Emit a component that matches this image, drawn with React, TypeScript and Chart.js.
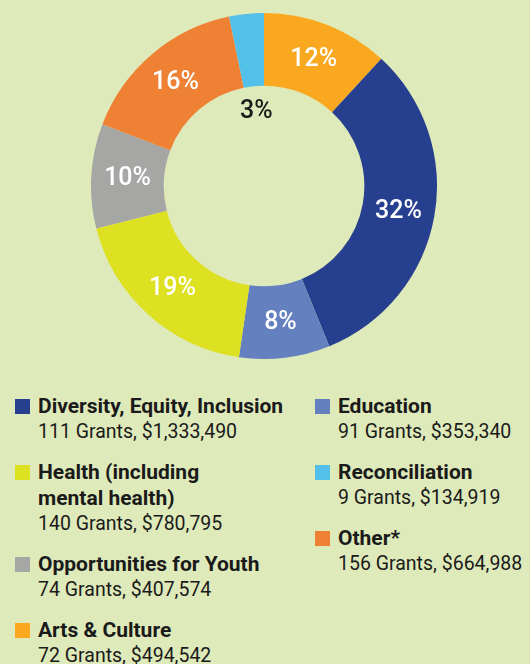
import React, { useEffect, useRef } from "react";
import { Chart, registerables } from "chart.js";

Chart.register(...registerables);

const categories = [
  "Arts & Culture",
  "Diversity, Equity, Inclusion",
  "Education",
  "Health (including mental health)",
  "Opportunities for Youth",
  "Other*",
  "Reconciliation",
];
const amounts = [494542, 1333490, 353340, 780795, 407574, 664988, 134919];
const grants = [72, 111, 91, 140, 74, 156, 9];
const colors = ["#f9a81f", "#273f8f", "#6480bf", "#dde122", "#a6a6a4", "#ee8134", "#53c0e9"];
const legendTitles = [
  "Arts & Culture",
  "Diversity, Equity, Inclusion",
  "Education",
  "Health (including\nmental health)",
  "Opportunities for Youth",
  "Other*",
  "Reconciliation",
];
const leftColumn = [1, 3, 4, 0];
const rightColumn = [2, 6, 5];
const insideHoleIndex = 6;

const fmt = (n: number) => "$" + n.toLocaleString("en-US");

const labelPlugin = {
  id: "pctLabels",
  afterDatasetsDraw(chart: any) {
    const ctx = chart.ctx;
    const meta = chart.getDatasetMeta(0);
    const data = chart.data.datasets[0].data as number[];
    const total = data.reduce((a, b) => a + b, 0);
    ctx.save();
    ctx.textAlign = "center";
    ctx.textBaseline = "middle";
    ctx.font = "500 25px Roboto";
    meta.data.forEach((arc: any, i: number) => {
      const p = arc.getProps(["x", "y", "startAngle", "endAngle", "innerRadius", "outerRadius"], true);
      const mid = (p.startAngle + p.endAngle) / 2;
      let r = (p.innerRadius + p.outerRadius) / 2;
      ctx.fillStyle = "#ffffff";
      if (i === insideHoleIndex) {
        r = p.innerRadius * 0.75;
        ctx.fillStyle = "#1a1a1a";
      }
      const txt = Math.round((data[i] / total) * 100) + "%";
      ctx.fillText(txt, p.x + Math.cos(mid) * r, p.y + Math.sin(mid) * r + 1);
    });
    ctx.restore();
  },
};

function LegendItem({ i }: { i: number }) {
  return (
    <div style={{ position: "relative", paddingLeft: 23, marginBottom: 14 }}>
      <div
        style={{
          position: "absolute",
          left: 0,
          top: 6,
          width: 15,
          height: 15,
          background: colors[i],
        }}
      />
      <div style={{ fontWeight: 700, fontSize: 21, whiteSpace: "pre-line" }}>{legendTitles[i]}</div>
      <div style={{ fontWeight: 400, fontSize: 19.5 }}>
        {grants[i]} Grants, {fmt(amounts[i])}
      </div>
    </div>
  );
}

export default function App() {
  const ref = useRef<HTMLCanvasElement | null>(null);
  useEffect(() => {
    if (!ref.current) return;
    const chart = new Chart(ref.current, {
      type: "doughnut",
      data: {
        labels: categories,
        datasets: [
          {
            data: amounts,
            backgroundColor: colors,
            borderWidth: 0,
            hoverOffset: 0,
          },
        ],
      },
      options: {
        responsive: false,
        animation: false,
        cutout: "58%",
        layout: { padding: 0 },
        plugins: { legend: { display: false }, tooltip: { enabled: false } },
      },
      plugins: [labelPlugin],
    });
    return () => chart.destroy();
  }, []);

  const colStyle: React.CSSProperties = {
    position: "absolute",
    top: 393,
    fontFamily: "Roboto",
    fontSize: 20,
    lineHeight: "26px",
    color: "#1a1a1a",
  };

  return (
    <div
      style={{
        position: "absolute",
        left: 0,
        top: 0,
        width: 530,
        height: 664,
        background: "#dfeaba",
        overflow: "hidden",
      }}
    >
      <canvas
        ref={ref}
        width={346}
        height={346}
        style={{ position: "absolute", left: 91, top: 13, width: 346, height: 346 }}
      />
      <div style={{ ...colStyle, left: 15 }}>
        {leftColumn.map((i) => (
          <LegendItem key={i} i={i} />
        ))}
      </div>
      <div style={{ ...colStyle, left: 315 }}>
        {rightColumn.map((i) => (
          <LegendItem key={i} i={i} />
        ))}
      </div>
    </div>
  );
}
